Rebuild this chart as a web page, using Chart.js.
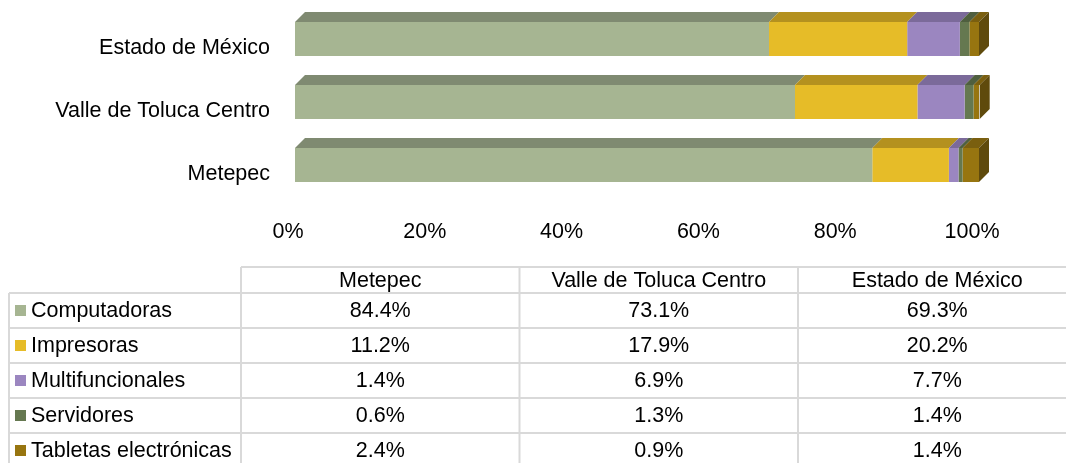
<!DOCTYPE html>
<html lang="es">
<head>
<meta charset="utf-8">
<title>Equipo de cómputo por tipo</title>
<script src="https://cdn.jsdelivr.net/npm/chart.js@4"></script>
<style>
    html, body { margin: 0; padding: 0; background: #ffffff; }
    #contenedor { position: relative; width: 1066px; height: 463px; }
</style>
</head>
<body>
<div id="contenedor"><canvas id="graficaEquipo"></canvas></div>
<script>
const categorias = ['Metepec', 'Valle de Toluca Centro', 'Estado de México'];
const computadoras = [84.4, 73.1, 69.3];
const impresoras = [11.2, 17.9, 20.2];
const multifuncionales = [1.4, 6.9, 7.7];
const servidores = [0.6, 1.3, 1.4];
const tabletas = [2.4, 0.9, 1.4];
const marcasEje = [0, 20, 40, 60, 80, 100];

const FUENTE = '"Liberation Sans", Arial, sans-serif';

// colores: cara frontal y cara superior (efecto 3D)
const series = [
    { nombre: 'Computadoras', datos: computadoras, frente: '#a6b592', arriba: '#7f8a71' },
    { nombre: 'Impresoras', datos: impresoras, frente: '#e6bc28', arriba: '#b4911f' },
    { nombre: 'Multifuncionales', datos: multifuncionales, frente: '#9b86c0', arriba: '#7b6a9a' },
    { nombre: 'Servidores', datos: servidores, frente: '#657850', arriba: '#4f5f3f' },
    { nombre: 'Tabletas electrónicas', datos: tabletas, frente: '#977510', arriba: '#7a5f0f' }
];
const COLOR_LADO = '#5f4a0c';
const FONDO = { dx: 10, dy: -10 };

// Plugin: caras superior y lateral de las barras
const barras3D = {
    id: 'barras3D',
    afterDatasetsDraw(chart) {
        const ctx = chart.ctx;
        const n = chart.data.labels.length;
        const total = chart.data.datasets.length;
        ctx.save();
        for (let i = 0; i < n; i++) {
            for (let d = 0; d < total; d++) {
                const barra = chart.getDatasetMeta(d).data[i];
                const p = barra.getProps(['x', 'y', 'base', 'height'], true);
                const arriba = p.y - p.height / 2;
                const abajo = p.y + p.height / 2;
                ctx.fillStyle = series[d].arriba;
                ctx.beginPath();
                ctx.moveTo(p.base, arriba);
                ctx.lineTo(p.x, arriba);
                ctx.lineTo(p.x + FONDO.dx, arriba + FONDO.dy);
                ctx.lineTo(p.base + FONDO.dx, arriba + FONDO.dy);
                ctx.closePath();
                ctx.fill();
                if (d === total - 1) {
                    ctx.fillStyle = COLOR_LADO;
                    ctx.beginPath();
                    ctx.moveTo(p.x, arriba);
                    ctx.lineTo(p.x + FONDO.dx, arriba + FONDO.dy);
                    ctx.lineTo(p.x + FONDO.dx, abajo + FONDO.dy);
                    ctx.lineTo(p.x, abajo);
                    ctx.closePath();
                    ctx.fill();
                }
            }
        }
        ctx.restore();
    }
};

// Plugin: tabla de datos con claves de leyenda
const tablaDatos = {
    id: 'tablaDatos',
    afterDraw(chart) {
        const ctx = chart.ctx;
        const izq = 9, colEtiqueta = 241, anchoCol = 278.5;
        const yEncabezado = 267, yFilas = 293, altoFila = 35;
        const derecha = chart.width;
        ctx.save();
        ctx.strokeStyle = '#d9d9d9';
        ctx.lineWidth = 2;
        // lineas horizontales
        ctx.beginPath();
        ctx.moveTo(colEtiqueta, yEncabezado);
        ctx.lineTo(derecha, yEncabezado);
        for (let r = 0; r <= series.length; r++) {
            const y = yFilas + r * altoFila;
            ctx.moveTo(izq, y);
            ctx.lineTo(derecha, y);
        }
        // lineas verticales
        ctx.moveTo(izq, yFilas);
        ctx.lineTo(izq, chart.height);
        for (let c = 0; c < categorias.length; c++) {
            const x = colEtiqueta + c * anchoCol;
            ctx.moveTo(x, yEncabezado);
            ctx.lineTo(x, chart.height);
        }
        ctx.stroke();

        ctx.fillStyle = '#000000';
        ctx.font = '21.5px ' + FUENTE;
        ctx.textBaseline = 'middle';
        ctx.textAlign = 'center';
        categorias.forEach((cat, c) => {
            ctx.fillText(cat, colEtiqueta + c * anchoCol + anchoCol / 2, (yEncabezado + yFilas) / 2 + 1);
        });
        series.forEach((s, r) => {
            const yc = yFilas + r * altoFila + altoFila / 2;
            ctx.fillStyle = s.frente;
            ctx.fillRect(15, yc - 5.5, 11, 11);
            ctx.fillStyle = '#000000';
            ctx.textAlign = 'left';
            ctx.fillText(s.nombre, 31, yc + 1);
            ctx.textAlign = 'center';
            s.datos.forEach((v, c) => {
                ctx.fillText(v.toFixed(1) + '%', colEtiqueta + c * anchoCol + anchoCol / 2, yc + 1);
            });
        });
        ctx.restore();
    }
};

function crearGrafica() {
    const ctx = document.getElementById('graficaEquipo').getContext('2d');
    new Chart(ctx, {
        type: 'bar',
        data: {
            labels: categorias,
            datasets: series.map(s => ({
                label: s.nombre,
                data: s.datos,
                backgroundColor: s.frente,
                borderWidth: 0,
                barPercentage: 0.54,
                categoryPercentage: 1
            }))
        },
        options: {
            indexAxis: 'y',
            responsive: true,
            maintainAspectRatio: false,
            animation: false,
            layout: {
                padding: { left: 0, top: 7.5, right: 87, bottom: 0 }
            },
            plugins: {
                legend: { display: false },
                tooltip: { enabled: false },
                title: { display: false }
            },
            scales: {
                x: {
                    stacked: true,
                    min: 0,
                    max: 100,
                    afterFit: function(scale) {
                        scale.height = 266.5;
                        scale.paddingLeft = 0;
                        scale.paddingRight = 0;
                    },
                    afterBuildTicks: function(scale) {
                        scale.ticks = marcasEje.map(v => ({ value: v }));
                    },
                    grid: { display: false, drawTicks: false },
                    border: { display: false },
                    ticks: {
                        padding: 23,
                        labelOffset: -7,
                        color: '#000000',
                        font: { family: FUENTE, size: 21.5 },
                        callback: function(value) { return value + '%'; }
                    }
                },
                y: {
                    stacked: true,
                    reverse: true,
                    afterFit: function(scale) {
                        scale.width = 295;
                        scale.paddingTop = 0;
                        scale.paddingBottom = 0;
                    },
                    grid: { display: false, drawTicks: false },
                    border: { display: false },
                    ticks: {
                        padding: 25,
                        labelOffset: 9,
                        color: '#000000',
                        font: { family: FUENTE, size: 21.5 }
                    }
                }
            }
        },
        plugins: [barras3D, tablaDatos]
    });
}

document.addEventListener('DOMContentLoaded', crearGrafica);
</script>
</body>
</html>
